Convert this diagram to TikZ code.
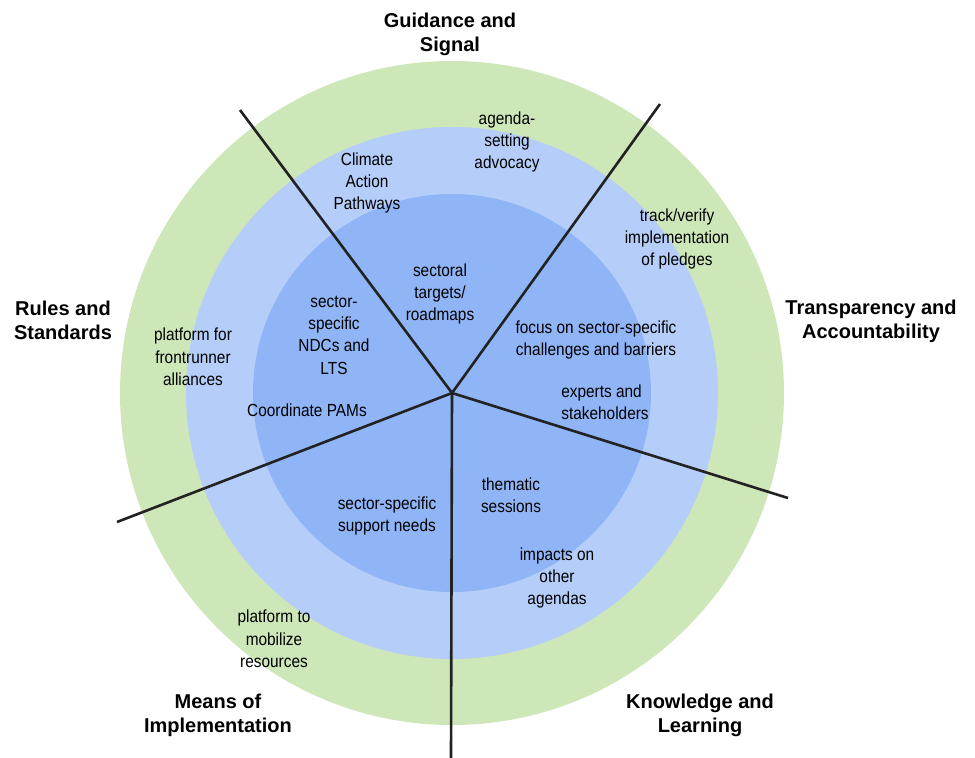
\documentclass[tikz,border=0pt]{standalone}
\usepackage{fontspec}
\setmainfont{Liberation Sans}
\newfontfamily\narrowfont[FakeStretch=0.88]{Liberation Sans}
\definecolor{ringgreen}{RGB}{206,231,185}
\definecolor{ringlight}{RGB}{180,205,249}
\definecolor{ringinner}{RGB}{143,181,247}
\definecolor{spoke}{RGB}{34,34,34}
\begin{document}
\begin{tikzpicture}[x=1pt,y=-1pt,
  lbl/.style={align=center,inner sep=0pt,font={\narrowfont\fontsize{17.5}{22.3}\selectfont}},
  ttl/.style={align=center,inner sep=0pt,font={\bfseries\fontsize{20}{24}\selectfont}},
  spokeline/.style={draw=spoke,line width=2.6pt}]
\useasboundingbox (0,0) rectangle (975,758);
\coordinate (c) at (452,393);
\fill[ringgreen] (c) circle[radius=332pt];
\fill[ringlight] (c) circle[radius=266pt];
\fill[ringinner] (c) circle[radius=199pt];
\coordinate (e1) at (240,110);
\coordinate (e2) at (660,104);
\coordinate (e3) at (788,498);
\coordinate (e4) at (451,758);
\coordinate (e5) at (117,522);
\foreach \e in {e1,e2,e3,e4,e5} \draw[spokeline] (c) -- (\e);
% titles
\node[ttl] (tg) at (450,34) {Guidance and\\Signal};
\node[ttl] (tr) at (63,320) {Rules and\\Standards};
\node[ttl] (tt) at (871,321) {Transparency and\\Accountability};
\node[ttl] (tm) at (218,715) {Means of\\Implementation};
\node[ttl] (tk) at (700,715) {Knowledge and\\Learning};
% labels
\node[lbl] (l1) at (507,142) {agenda-\\setting\\advocacy};
\node[lbl] (l2) at (367,183) {Climate\\Action\\Pathways};
\node[lbl] (l3) at (677,239) {track/verify\\implementation\\of pledges};
\node[lbl] (l4) at (440,294) {sectoral\\targets/\\roadmaps};
\node[lbl] (l5) at (334,335) {sector-\\specific\\NDCs and\\LTS};
\node[lbl] (l6) at (307,410) {Coordinate PAMs};
\node[lbl] (l7) at (596,340) {focus on sector-specific\\challenges and barriers};
\node[lbl,align=left] (l8) at (605,402) {experts and\\stakeholders};
\node[lbl] (l9) at (511,495) {thematic\\sessions};
\node[lbl] (l10) at (387,516) {sector-specific\\support needs};
\node[lbl] (l11) at (557,578) {impacts on\\other\\agendas};
\node[lbl] (l12) at (274,639) {platform to\\mobilize\\resources};
\node[lbl] (l13) at (193,357) {platform for\\frontrunner\\alliances};
\end{tikzpicture}
\end{document}
